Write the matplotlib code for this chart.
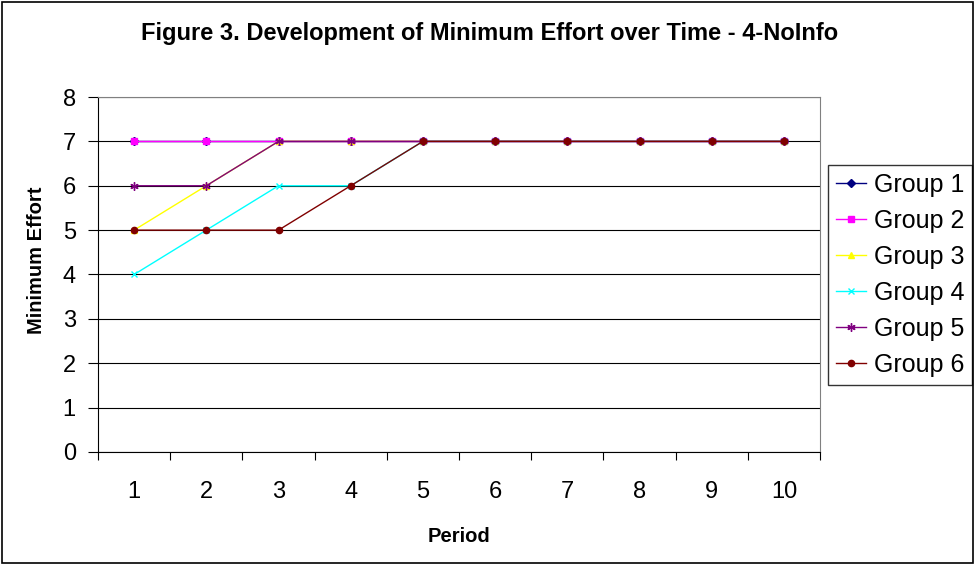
import matplotlib
matplotlib.use("Agg")
import matplotlib.pyplot as plt
from matplotlib.patches import Rectangle

plt.rcParams['font.family'] = ['Liberation Sans', 'DejaVu Sans']

periods = [1, 2, 3, 4, 5, 6, 7, 8, 9, 10]
group1 = [7, 7, 7, 7, 7, 7, 7, 7, 7, 7]
group2 = [7, 7, 7, 7, 7, 7, 7, 7, 7, 7]
group3 = [5, 6, 7, 7, 7, 7, 7, 7, 7, 7]
group4 = [4, 5, 6, 6, 7, 7, 7, 7, 7, 7]
group5 = [6, 6, 7, 7, 7, 7, 7, 7, 7, 7]
group6 = [5, 5, 5, 6, 7, 7, 7, 7, 7, 7]
labels = ["Group 1", "Group 2", "Group 3", "Group 4", "Group 5", "Group 6"]

series = [group1, group2, group3, group4, group5, group6]
colors = ["#000080", "#FF00FF", "#FFFF00", "#00FFFF", "#800080", "#800000"]
markers = ["D", "s", "^", "x", (6, 2, 0), "o"]
msizes = [4, 4.5, 5, 5, 6, 4.5]

fig = plt.figure(figsize=(9.76, 5.64), dpi=100)
fig.patches.append(Rectangle((0.002, 0.002), 0.995, 0.995, transform=fig.transFigure,
                             fill=False, edgecolor="black", linewidth=1.2))
ax = fig.add_axes([0.1004, 0.1986, 0.7398, 0.6294])

# categories sit in the middle of each period slot
x = [p - 0.5 for p in periods]
for ys, c, m, ms, lab in zip(series, colors, markers, msizes, labels):
    ax.plot(x, ys, color=c, marker=m, markersize=ms, linewidth=1.0,
            markeredgecolor=c, markerfacecolor=c, label=lab, clip_on=False)

ax.set_xlim(0, 10)
ax.set_ylim(0, 8)
ax.set_yticks(range(0, 9))
ax.set_yticklabels([str(v) for v in range(0, 9)], fontsize=17)
ax.set_xticks(range(0, 11))
ax.set_xticklabels([])
ax.set_xticks(x, minor=True)
ax.set_xticklabels([str(p) for p in periods], minor=True, fontsize=17)
ax.tick_params(axis="x", which="minor", length=0, pad=21)
ax.tick_params(axis="x", which="major", length=6, direction="out", color="black")
ax.tick_params(axis="y", length=7, direction="out", pad=9)
ax.grid(axis="y", color="black", linewidth=0.8)
ax.set_axisbelow(True)
for side in ["top", "right"]:
    ax.spines[side].set_color("#808080")
ax.spines["left"].set_color("black")
ax.spines["bottom"].set_color("black")

ax.set_xlabel("Period", fontsize=14.5, fontweight="bold", labelpad=17)
ax.set_ylabel("Minimum Effort", fontsize=14.5, fontweight="bold")
ax.yaxis.set_label_coords(-0.072, 0.54)
fig.text(0.502, 0.941, "Figure 3. Development of Minimum Effort over Time - 4-NoInfo",
         ha="center", va="center", fontsize=17, fontweight="bold")

leg = ax.legend(loc="upper left", bbox_to_anchor=(828 / 976, 1 - 165 / 564),
                bbox_transform=fig.transFigure, fontsize=18, frameon=True,
                fancybox=False, edgecolor="black", handlelength=1.2,
                handletextpad=0.3, labelspacing=0.48, borderpad=0.32,
                borderaxespad=0)
leg.get_frame().set_linewidth(1.0)

fig.savefig("out.png", dpi=100)
